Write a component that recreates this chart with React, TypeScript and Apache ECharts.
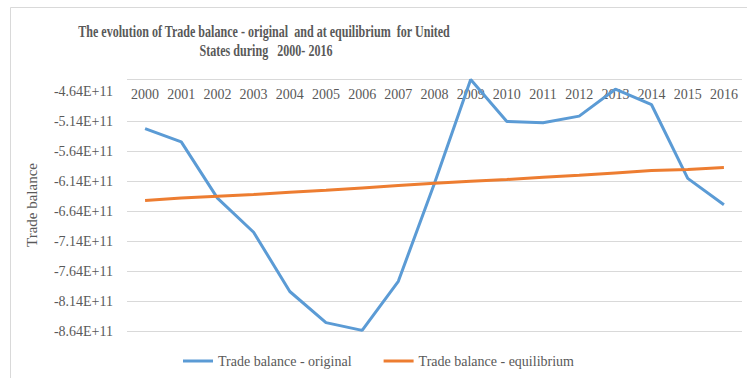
import React, { useEffect, useRef } from "react";
import * as echarts from "echarts";

const years = ["2000","2001","2002","2003","2004","2005","2006","2007","2008","2009","2010","2011","2012","2013","2014","2015","2016"];
const original = [-5.26e11,-5.48e11,-6.42e11,-6.99e11,-7.98e11,-8.50e11,-8.63e11,-7.81e11,-6.17e11,-4.44e11,-5.14e11,-5.16e11,-5.05e11,-4.60e11,-4.86e11,-6.09e11,-6.53e11];
const equilibrium = [-6.46e11,-6.42e11,-6.39e11,-6.36e11,-6.32e11,-6.29e11,-6.25e11,-6.21e11,-6.17e11,-6.14e11,-6.11e11,-6.07e11,-6.04e11,-6.00e11,-5.96e11,-5.94e11,-5.91e11];
const titleLines = ["The evolution of Trade balance - original  and at equilibrium  for United", "States during   2000- 2016"];
const seriesNames = ["Trade balance - original", "Trade balance - equilibrium"];
const yMin = -8.64e11;
const yMax = -4.43e11;
const yStep = 0.5e11;

export default function App() {
  const ref = useRef<HTMLDivElement>(null);
  useEffect(() => {
    if (!ref.current) return;
    const chart = echarts.init(ref.current, null, { renderer: "svg" });
    const serif = "Liberation Serif";
    const grey = "#595959";
    const gridColors = Array.from({ length: 10 }, (_, i) => (i === 8 ? "rgba(0,0,0,0)" : "#d9d9d9"));
    chart.setOption({
      animation: false,
      backgroundColor: "#ffffff",
      graphic: [
        { type: "rect", shape: { x: 10.5, y: 7.5, width: 800, height: 400 }, style: { fill: "none", stroke: "#d9d9d9", lineWidth: 1 }, silent: true, z: -1 },
        { type: "text", x: 264, y: 31, scaleX: 0.71, style: { text: titleLines[0], fontFamily: serif, fontWeight: "bold", fontSize: 17, fill: grey, align: "center", verticalAlign: "middle" } },
        { type: "text", x: 266, y: 50, scaleX: 0.71, style: { text: titleLines[1], fontFamily: serif, fontWeight: "bold", fontSize: 17, fill: grey, align: "center", verticalAlign: "middle" } },
      ],
      grid: { left: 127, right: 5, top: 79, bottom: 47, containLabel: false },
      legend: {
        left: 178,
        top: 349,
        icon: "rect",
        itemWidth: 30,
        itemHeight: 3,
        itemGap: 32,
        textStyle: { fontFamily: serif, fontSize: 14, color: grey },
        data: seriesNames,
      },
      xAxis: {
        type: "category",
        data: years,
        position: "top",
        boundaryGap: true,
        axisLine: { show: false },
        axisTick: { show: false },
        axisLabel: { inside: true, margin: 8, fontFamily: serif, fontSize: 14, color: grey, interval: 0 },
      },
      yAxis: {
        type: "value",
        min: yMin,
        max: yMax,
        interval: yStep,
        name: "Trade balance",
        nameLocation: "middle",
        nameGap: 88,
        nameTextStyle: { fontFamily: serif, fontSize: 15, color: grey },
        axisLine: { show: false },
        axisTick: { show: false },
        axisLabel: {
          margin: 14,
          fontFamily: serif,
          fontSize: 14,
          color: grey,
          formatter: (v: number) => (Math.abs(v - yMax) < 1e7 ? "" : (v / 1e11).toFixed(2) + "E+11"),
        },
        splitLine: { show: true, lineStyle: { color: gridColors, width: 1 } },
      },
      series: [
        { name: seriesNames[0], type: "line", data: original, symbol: "none", lineStyle: { color: "#5B9BD5", width: 3 }, itemStyle: { color: "#5B9BD5" }, clip: false },
        { name: seriesNames[1], type: "line", data: equilibrium, symbol: "none", lineStyle: { color: "#ED7D31", width: 3 }, itemStyle: { color: "#ED7D31" }, clip: false },
      ],
    });
    return () => chart.dispose();
  }, []);
  return <div ref={ref} style={{ position: "absolute", left: 0, top: 0, width: 747, height: 378 }} />;
}
